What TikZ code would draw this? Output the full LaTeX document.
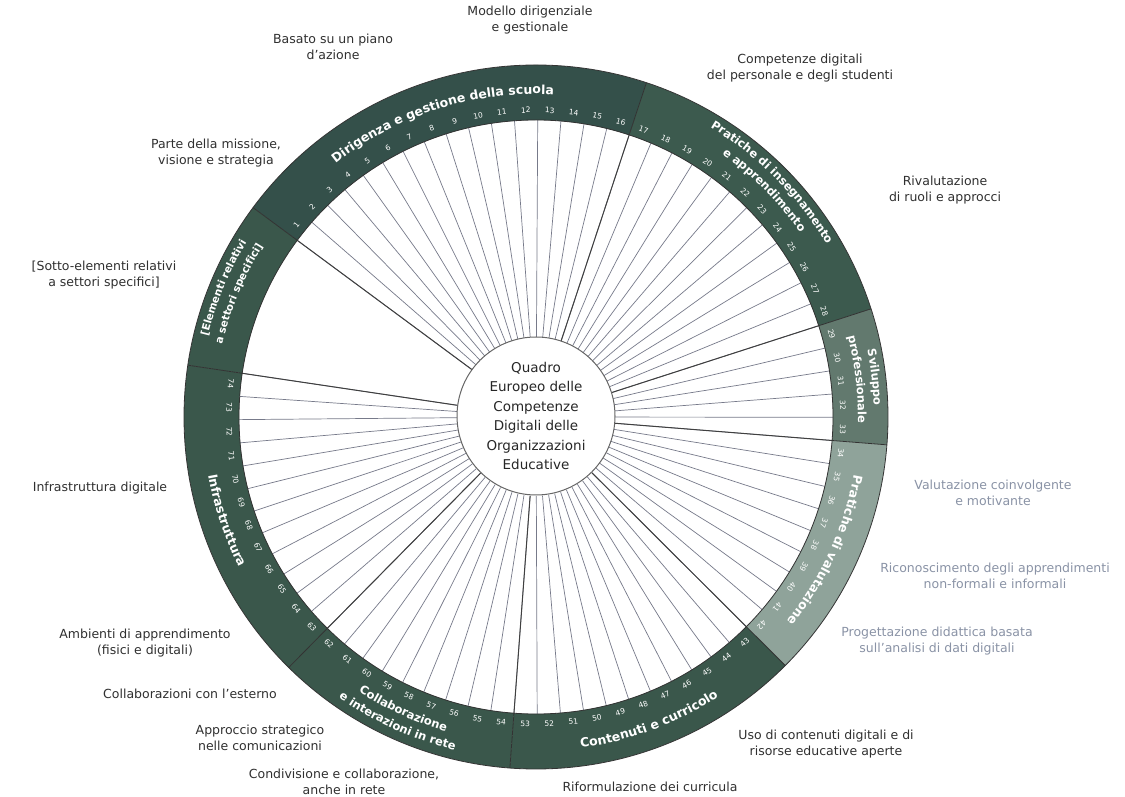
\documentclass[tikz,border=0pt]{standalone}
\usepackage{fontspec}
\setmainfont{DejaVu Sans}
\usetikzlibrary{decorations.text}
\definecolor{segLG}{HTML}{34504A}
\definecolor{segTL}{HTML}{3C5A4E}
\definecolor{segPD}{HTML}{62796E}
\definecolor{segAP}{HTML}{8FA39A}
\definecolor{segCC}{HTML}{3A574B}
\definecolor{segCN}{HTML}{3A574B}
\definecolor{segIN}{HTML}{3A574B}
\definecolor{segSS}{HTML}{3A574B}
\definecolor{lbl}{HTML}{303030}
\definecolor{lblLight}{HTML}{8A93A6}
\definecolor{spokeC}{HTML}{777A8A}
\newcommand\ringfnt{\bfseries\fontsize{12.5}{14}\selectfont}
\newcommand\ringfntM{\bfseries\fontsize{11.5}{13}\selectfont}
\newcommand\ringfntS{\bfseries\fontsize{10.5}{12}\selectfont}
\newcommand\numfnt{\fontsize{7.5}{8}\selectfont}
\tikzset{
  seglabel/.style={font=\fontsize{12.5}{15.5}\selectfont, text=lbl, align=center, inner sep=1pt},
  seglabellight/.style={seglabel, text=lblLight},
  spoke/.style={draw=spokeC, line width=0.7pt},
  bspoke/.style={draw=black!75, line width=1pt},
  ringline/.style={draw=black!80, line width=0.8pt},
  num/.style={font=\numfnt, text=white, inner sep=0pt},
  ringtxt/.style={decorate, decoration={text along path, text align=center, text color=white, text={|\ringfnt|#1}}},
  ringtxtM/.style={decorate, decoration={text along path, text align=center, text color=white, text={|\ringfntM|#1}}},
  ringtxtS/.style={decorate, decoration={text along path, text align=center, text color=white, text={|\ringfntS|#1}}}
}
\begin{document}
\begin{tikzpicture}[x=1pt,y=1pt]
\useasboundingbox (0,0) rectangle (1125,796);
\fill[white] (0,0) rectangle (1125,796);
\begin{scope}[shift={(536,379)}]
  % ring segments
  \foreach \a/\b/\c in {143.5/71.724/segLG, 71.724/17.892/segTL, 17.892/-4.538/segPD, -4.538/-44.912/segAP, -44.912/-94.258/segCC, -94.258/-134.632/segCN, -134.632/-188.464/segIN, 171.536/143.5/segSS}
    \fill[\c] (\a:297) arc[start angle=\a, end angle=\b, radius=297pt] -- (\b:352) arc[start angle=\b, end angle=\a, radius=352pt] -- cycle;
  % spokes
  \foreach \j in {0,...,74} {
    \pgfmathsetmacro\t{143.5-4.486*\j}
    \draw[spoke] (\t:79) -- (\t:297);
  }
  \foreach \j in {0,16,28,33,42,53,62,74} {
    \pgfmathsetmacro\t{143.5-4.486*\j}
    \draw[bspoke] (\t:79) -- (\t:297);
    \draw[ringline] (\t:297) -- (\t:352);
  }
  \draw[ringline] (0,0) circle[radius=297pt];
  \draw[ringline] (0,0) circle[radius=352pt];
  % numbers
  \foreach \k in {1,...,74} {
    \pgfmathsetmacro\m{143.5-4.486*(\k-0.5)}
    \pgfmathsetmacro\rot{\k<43 ? \m-90 : \m+90}
    \node[num, rotate=\rot] (n\k) at (\m:307) {\k};
  }
  % ring texts
  \path[ringtxt={Dirigenza e gestione della scuola}] (143.5:323) arc[start angle=143.5, end angle=71.724, radius=323pt];
  \path[ringtxtM={Pratiche di insegnamento}] (71.724:338) arc[start angle=71.724, end angle=17.892, radius=338pt];
  \path[ringtxtM={e apprendimento}] (71.724:322) arc[start angle=71.724, end angle=17.892, radius=322pt];
  \path[ringtxtM={Sviluppo}] (17.892:338) arc[start angle=17.892, end angle=-4.538, radius=338pt];
  \path[ringtxtM={professionale}] (17.892:322) arc[start angle=17.892, end angle=-4.538, radius=322pt];
  \path[ringtxt={Pratiche di valutazione}] (-4.538:323) arc[start angle=-4.538, end angle=-44.912, radius=323pt];
  \path[ringtxt={Contenuti e curricolo}] (-94.258:334) arc[start angle=-94.258, end angle=-44.912, radius=334pt];
  \path[ringtxtM={Collaborazione}] (-134.632:327) arc[start angle=-134.632, end angle=-94.258, radius=327pt];
  \path[ringtxtM={e interazioni in rete}] (-134.632:343) arc[start angle=-134.632, end angle=-94.258, radius=343pt];
  \path[ringtxt={Infrastruttura}] (-188.464:333) arc[start angle=-188.464, end angle=-134.632, radius=333pt];
  \path[ringtxtS={[Elementi relativi}] (171.536:338) arc[start angle=171.536, end angle=143.5, radius=338pt];
  \path[ringtxtS={a settori specifici]}] (171.536:322) arc[start angle=171.536, end angle=143.5, radius=322pt];
  % centre
  \node[circle, draw=black!60, line width=1pt, fill=white, minimum size=158pt, inner sep=0pt, align=center,
        font=\fontsize{13.5}{19.5}\selectfont, text=black!85] (core) at (0,1)
        {Quadro\\Europeo delle\\Competenze\\Digitali delle\\Organizzazioni\\Educative};
\end{scope}
% outer labels
\node[seglabel] (lModello) at (530,776) {Modello dirigenziale\\e gestionale};
\node[seglabel] (lBasato) at (333,749) {Basato su un piano\\d'azione};
\node[seglabel] (lCompet) at (800,728) {Competenze digitali\\del personale e degli studenti};
\node[seglabel] (lParte) at (216,643) {Parte della missione,\\visione e strategia};
\node[seglabel] (lRival) at (945,606) {Rivalutazione\\di ruoli e approcci};
\node[seglabel] (lSotto) at (104,521) {[Sotto-elementi relativi\\a settori specifici]};
\node[seglabel] (lInfra) at (100,308) {Infrastruttura digitale};
\node[seglabellight] (lValut) at (993,303) {Valutazione coinvolgente\\e motivante};
\node[seglabellight] (lRicon) at (995,220) {Riconoscimento degli apprendimenti\\non-formali e informali};
\node[seglabellight] (lProg) at (937,155) {Progettazione didattica basata\\sull'analisi di dati digitali};
\node[seglabel] (lAmb) at (145,153) {Ambienti di apprendimento\\(fisici e digitali)};
\node[seglabel] (lCollEst) at (190,102) {Collaborazioni con l'esterno};
\node[seglabel] (lAppr) at (260,58) {Approccio strategico\\nelle comunicazioni};
\node[seglabel] (lUso) at (826,52) {Uso di contenuti digitali e di\\risorse educative aperte};
\node[seglabel] (lCond) at (344,14) {Condivisione e collaborazione,\\anche in rete};
\node[seglabel] (lRif) at (650,9) {Riformulazione dei curricula};
\end{tikzpicture}
\end{document}
